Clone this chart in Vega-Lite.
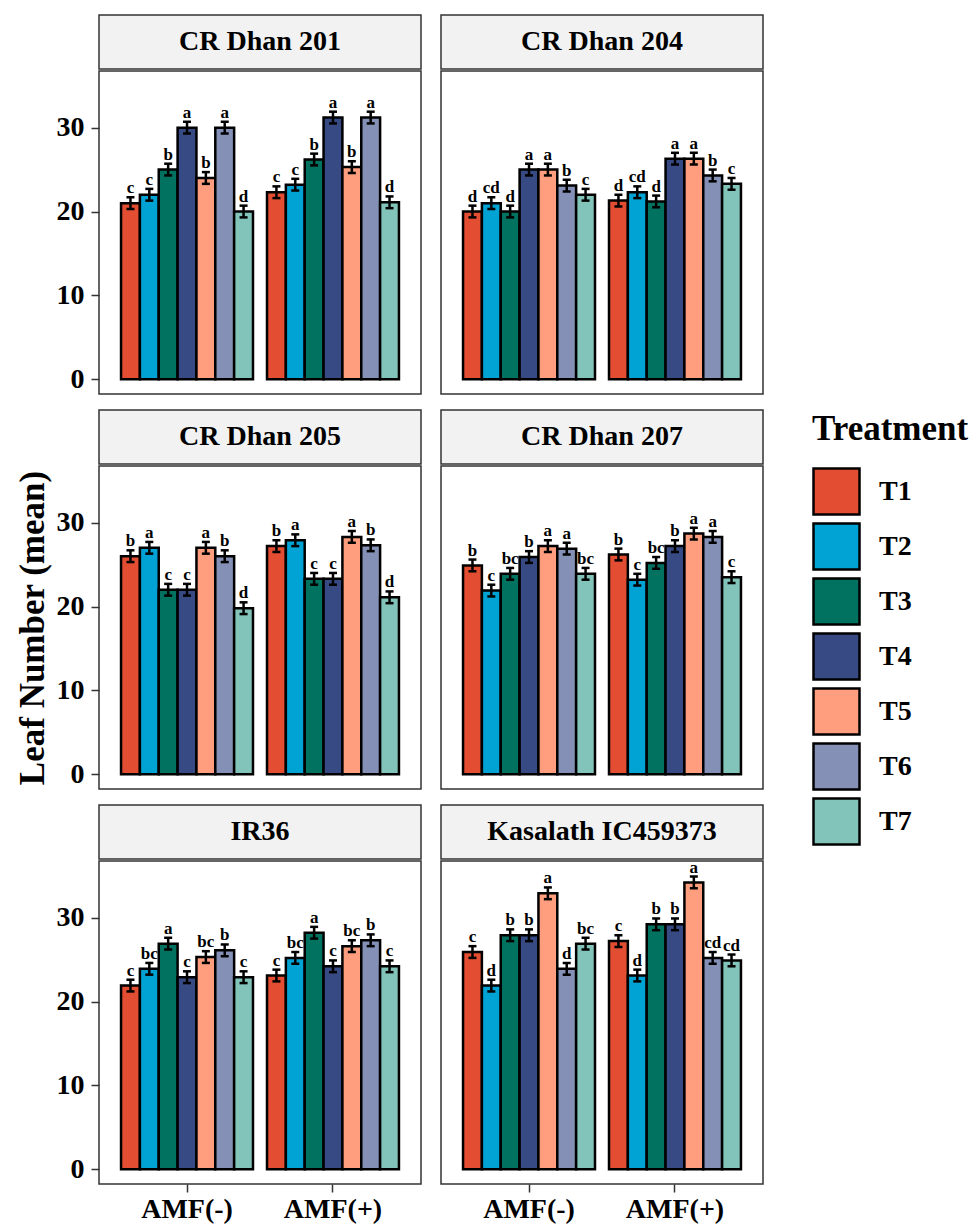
{
  "$schema": "https://vega.github.io/schema/vega-lite/v6.json",
  "padding": {"left": 14, "top": 14, "right": 4, "bottom": 0},
  "datasets": {
    "d": [
      {"c":"CR Dhan 201","a":"AMF(-)","t":"T1","m":21.0,"lo":20.3,"hi":21.7,"l":"c"},
      {"c":"CR Dhan 201","a":"AMF(-)","t":"T2","m":22.0,"lo":21.3,"hi":22.7,"l":"c"},
      {"c":"CR Dhan 201","a":"AMF(-)","t":"T3","m":25.0,"lo":24.3,"hi":25.7,"l":"b"},
      {"c":"CR Dhan 201","a":"AMF(-)","t":"T4","m":30.0,"lo":29.3,"hi":30.7,"l":"a"},
      {"c":"CR Dhan 201","a":"AMF(-)","t":"T5","m":24.0,"lo":23.3,"hi":24.7,"l":"b"},
      {"c":"CR Dhan 201","a":"AMF(-)","t":"T6","m":30.0,"lo":29.3,"hi":30.7,"l":"a"},
      {"c":"CR Dhan 201","a":"AMF(-)","t":"T7","m":20.0,"lo":19.3,"hi":20.7,"l":"d"},
      {"c":"CR Dhan 201","a":"AMF(+)","t":"T1","m":22.3,"lo":21.6,"hi":23.0,"l":"c"},
      {"c":"CR Dhan 201","a":"AMF(+)","t":"T2","m":23.2,"lo":22.5,"hi":23.9,"l":"c"},
      {"c":"CR Dhan 201","a":"AMF(+)","t":"T3","m":26.2,"lo":25.5,"hi":26.9,"l":"b"},
      {"c":"CR Dhan 201","a":"AMF(+)","t":"T4","m":31.2,"lo":30.5,"hi":31.9,"l":"a"},
      {"c":"CR Dhan 201","a":"AMF(+)","t":"T5","m":25.3,"lo":24.6,"hi":26.0,"l":"b"},
      {"c":"CR Dhan 201","a":"AMF(+)","t":"T6","m":31.2,"lo":30.5,"hi":31.9,"l":"a"},
      {"c":"CR Dhan 201","a":"AMF(+)","t":"T7","m":21.1,"lo":20.4,"hi":21.8,"l":"d"},

      {"c":"CR Dhan 204","a":"AMF(-)","t":"T1","m":20.0,"lo":19.3,"hi":20.7,"l":"d"},
      {"c":"CR Dhan 204","a":"AMF(-)","t":"T2","m":21.0,"lo":20.3,"hi":21.7,"l":"cd"},
      {"c":"CR Dhan 204","a":"AMF(-)","t":"T3","m":20.0,"lo":19.3,"hi":20.7,"l":"d"},
      {"c":"CR Dhan 204","a":"AMF(-)","t":"T4","m":25.0,"lo":24.3,"hi":25.7,"l":"a"},
      {"c":"CR Dhan 204","a":"AMF(-)","t":"T5","m":25.0,"lo":24.3,"hi":25.7,"l":"a"},
      {"c":"CR Dhan 204","a":"AMF(-)","t":"T6","m":23.1,"lo":22.4,"hi":23.8,"l":"b"},
      {"c":"CR Dhan 204","a":"AMF(-)","t":"T7","m":22.0,"lo":21.3,"hi":22.7,"l":"c"},
      {"c":"CR Dhan 204","a":"AMF(+)","t":"T1","m":21.3,"lo":20.6,"hi":22.0,"l":"d"},
      {"c":"CR Dhan 204","a":"AMF(+)","t":"T2","m":22.3,"lo":21.6,"hi":23.0,"l":"cd"},
      {"c":"CR Dhan 204","a":"AMF(+)","t":"T3","m":21.2,"lo":20.5,"hi":21.9,"l":"d"},
      {"c":"CR Dhan 204","a":"AMF(+)","t":"T4","m":26.3,"lo":25.6,"hi":27.0,"l":"a"},
      {"c":"CR Dhan 204","a":"AMF(+)","t":"T5","m":26.3,"lo":25.6,"hi":27.0,"l":"a"},
      {"c":"CR Dhan 204","a":"AMF(+)","t":"T6","m":24.3,"lo":23.6,"hi":25.0,"l":"b"},
      {"c":"CR Dhan 204","a":"AMF(+)","t":"T7","m":23.3,"lo":22.6,"hi":24.0,"l":"c"},

      {"c":"CR Dhan 205","a":"AMF(-)","t":"T1","m":26.0,"lo":25.3,"hi":26.7,"l":"b"},
      {"c":"CR Dhan 205","a":"AMF(-)","t":"T2","m":27.0,"lo":26.3,"hi":27.7,"l":"a"},
      {"c":"CR Dhan 205","a":"AMF(-)","t":"T3","m":22.0,"lo":21.3,"hi":22.7,"l":"c"},
      {"c":"CR Dhan 205","a":"AMF(-)","t":"T4","m":22.0,"lo":21.3,"hi":22.7,"l":"c"},
      {"c":"CR Dhan 205","a":"AMF(-)","t":"T5","m":27.0,"lo":26.3,"hi":27.7,"l":"a"},
      {"c":"CR Dhan 205","a":"AMF(-)","t":"T6","m":26.0,"lo":25.3,"hi":26.7,"l":"b"},
      {"c":"CR Dhan 205","a":"AMF(-)","t":"T7","m":19.8,"lo":19.1,"hi":20.5,"l":"d"},
      {"c":"CR Dhan 205","a":"AMF(+)","t":"T1","m":27.2,"lo":26.5,"hi":27.9,"l":"b"},
      {"c":"CR Dhan 205","a":"AMF(+)","t":"T2","m":27.9,"lo":27.2,"hi":28.6,"l":"a"},
      {"c":"CR Dhan 205","a":"AMF(+)","t":"T3","m":23.3,"lo":22.6,"hi":24.0,"l":"c"},
      {"c":"CR Dhan 205","a":"AMF(+)","t":"T4","m":23.3,"lo":22.6,"hi":24.0,"l":"c"},
      {"c":"CR Dhan 205","a":"AMF(+)","t":"T5","m":28.3,"lo":27.6,"hi":29.0,"l":"a"},
      {"c":"CR Dhan 205","a":"AMF(+)","t":"T6","m":27.3,"lo":26.6,"hi":28.0,"l":"b"},
      {"c":"CR Dhan 205","a":"AMF(+)","t":"T7","m":21.1,"lo":20.4,"hi":21.8,"l":"d"},

      {"c":"CR Dhan 207","a":"AMF(-)","t":"T1","m":24.9,"lo":24.2,"hi":25.6,"l":"b"},
      {"c":"CR Dhan 207","a":"AMF(-)","t":"T2","m":21.9,"lo":21.2,"hi":22.6,"l":"c"},
      {"c":"CR Dhan 207","a":"AMF(-)","t":"T3","m":23.9,"lo":23.2,"hi":24.6,"l":"bc"},
      {"c":"CR Dhan 207","a":"AMF(-)","t":"T4","m":25.9,"lo":25.2,"hi":26.6,"l":"b"},
      {"c":"CR Dhan 207","a":"AMF(-)","t":"T5","m":27.2,"lo":26.5,"hi":27.9,"l":"a"},
      {"c":"CR Dhan 207","a":"AMF(-)","t":"T6","m":26.9,"lo":26.2,"hi":27.6,"l":"a"},
      {"c":"CR Dhan 207","a":"AMF(-)","t":"T7","m":23.9,"lo":23.2,"hi":24.6,"l":"bc"},
      {"c":"CR Dhan 207","a":"AMF(+)","t":"T1","m":26.2,"lo":25.5,"hi":26.9,"l":"b"},
      {"c":"CR Dhan 207","a":"AMF(+)","t":"T2","m":23.2,"lo":22.5,"hi":23.9,"l":"c"},
      {"c":"CR Dhan 207","a":"AMF(+)","t":"T3","m":25.2,"lo":24.5,"hi":25.9,"l":"bc"},
      {"c":"CR Dhan 207","a":"AMF(+)","t":"T4","m":27.2,"lo":26.5,"hi":27.9,"l":"b"},
      {"c":"CR Dhan 207","a":"AMF(+)","t":"T5","m":28.7,"lo":28.0,"hi":29.4,"l":"a"},
      {"c":"CR Dhan 207","a":"AMF(+)","t":"T6","m":28.3,"lo":27.6,"hi":29.0,"l":"a"},
      {"c":"CR Dhan 207","a":"AMF(+)","t":"T7","m":23.5,"lo":22.8,"hi":24.2,"l":"c"},

      {"c":"IR36","a":"AMF(-)","t":"T1","m":21.9,"lo":21.2,"hi":22.6,"l":"c"},
      {"c":"IR36","a":"AMF(-)","t":"T2","m":23.9,"lo":23.2,"hi":24.6,"l":"bc"},
      {"c":"IR36","a":"AMF(-)","t":"T3","m":26.9,"lo":26.2,"hi":27.6,"l":"a"},
      {"c":"IR36","a":"AMF(-)","t":"T4","m":22.9,"lo":22.2,"hi":23.6,"l":"c"},
      {"c":"IR36","a":"AMF(-)","t":"T5","m":25.3,"lo":24.6,"hi":26.0,"l":"bc"},
      {"c":"IR36","a":"AMF(-)","t":"T6","m":26.1,"lo":25.4,"hi":26.8,"l":"b"},
      {"c":"IR36","a":"AMF(-)","t":"T7","m":22.9,"lo":22.2,"hi":23.6,"l":"c"},
      {"c":"IR36","a":"AMF(+)","t":"T1","m":23.1,"lo":22.4,"hi":23.8,"l":"c"},
      {"c":"IR36","a":"AMF(+)","t":"T2","m":25.2,"lo":24.5,"hi":25.9,"l":"bc"},
      {"c":"IR36","a":"AMF(+)","t":"T3","m":28.2,"lo":27.5,"hi":28.9,"l":"a"},
      {"c":"IR36","a":"AMF(+)","t":"T4","m":24.2,"lo":23.5,"hi":24.9,"l":"c"},
      {"c":"IR36","a":"AMF(+)","t":"T5","m":26.6,"lo":25.9,"hi":27.3,"l":"bc"},
      {"c":"IR36","a":"AMF(+)","t":"T6","m":27.3,"lo":26.6,"hi":28.0,"l":"b"},
      {"c":"IR36","a":"AMF(+)","t":"T7","m":24.2,"lo":23.5,"hi":24.9,"l":"c"},

      {"c":"Kasalath IC459373","a":"AMF(-)","t":"T1","m":25.9,"lo":25.2,"hi":26.6,"l":"c"},
      {"c":"Kasalath IC459373","a":"AMF(-)","t":"T2","m":21.9,"lo":21.2,"hi":22.6,"l":"d"},
      {"c":"Kasalath IC459373","a":"AMF(-)","t":"T3","m":27.9,"lo":27.2,"hi":28.6,"l":"b"},
      {"c":"Kasalath IC459373","a":"AMF(-)","t":"T4","m":27.9,"lo":27.2,"hi":28.6,"l":"b"},
      {"c":"Kasalath IC459373","a":"AMF(-)","t":"T5","m":32.9,"lo":32.2,"hi":33.6,"l":"a"},
      {"c":"Kasalath IC459373","a":"AMF(-)","t":"T6","m":23.9,"lo":23.2,"hi":24.6,"l":"d"},
      {"c":"Kasalath IC459373","a":"AMF(-)","t":"T7","m":26.9,"lo":26.2,"hi":27.6,"l":"bc"},
      {"c":"Kasalath IC459373","a":"AMF(+)","t":"T1","m":27.2,"lo":26.5,"hi":27.9,"l":"c"},
      {"c":"Kasalath IC459373","a":"AMF(+)","t":"T2","m":23.1,"lo":22.4,"hi":23.8,"l":"d"},
      {"c":"Kasalath IC459373","a":"AMF(+)","t":"T3","m":29.2,"lo":28.5,"hi":29.9,"l":"b"},
      {"c":"Kasalath IC459373","a":"AMF(+)","t":"T4","m":29.2,"lo":28.5,"hi":29.9,"l":"b"},
      {"c":"Kasalath IC459373","a":"AMF(+)","t":"T5","m":34.2,"lo":33.5,"hi":34.9,"l":"a"},
      {"c":"Kasalath IC459373","a":"AMF(+)","t":"T6","m":25.2,"lo":24.5,"hi":25.9,"l":"cd"},
      {"c":"Kasalath IC459373","a":"AMF(+)","t":"T7","m":24.9,"lo":24.2,"hi":25.6,"l":"cd"}
    ]
  },
  "config": {
    "font": "Liberation Serif",
    "view": {"stroke": "#333333", "strokeWidth": 1.5},
    "axis": {"grid": false, "domain": false, "tickSize": 8, "tickColor": "#333333", "tickWidth": 1.5, "labelFontSize": 28, "labelFontWeight": "bold", "labelColor": "black", "labelFont": "Liberation Serif", "titleFont": "Liberation Serif"},
    "axisY": {"labelPadding": 7, "titleFontSize": 35, "titleFontWeight": "bold", "titleColor": "black", "titlePadding": 6},
    "axisX": {"labelAngle": 0, "labelPadding": 3},
    "legend": {
      "symbolType": "square", "symbolSize": 2116, "symbolStrokeColor": "black", "symbolStrokeWidth": 2.5, "symbolOpacity": 1,
      "labelFontSize": 28, "labelFontWeight": "bold", "labelColor": "black", "labelFont": "Liberation Serif",
      "titleFontSize": 35, "titleFontWeight": "bold", "titleColor": "black", "titleFont": "Liberation Serif",
      "rowPadding": -2, "labelOffset": 18, "titlePadding": 20, "padding": 0, "direction": "vertical"
    }
  },
  "columns": 2,
  "spacing": {"row": 14, "column": 18},
  "resolve": {"scale": {"color": "shared"}, "legend": {"color": "shared"}},
  "concat": [
    {"spacing": 2, "bounds": "flush", "vconcat": [
      {"width": 322, "height": 54, "view": {"fill": "#F2F2F2", "stroke": "#333333", "strokeWidth": 1.5}, "data": {"values": [{"c": "CR Dhan 201"}]}, "mark": {"type": "text", "fontSize": 28, "fontWeight": "bold", "color": "black"}, "encoding": {"text": {"field": "c"}}},
      {"width": 322, "height": 323, "data": {"name": "d"}, "transform": [{"filter": "datum.c === 'CR Dhan 201'"}],
       "encoding": {
         "x": {"field": "a", "type": "nominal", "sort": ["AMF(-)", "AMF(+)"], "scale": {"paddingInner": 0.096, "paddingOuter": 0.151}, "axis": null},
         "xOffset": {"field": "t", "type": "nominal", "sort": ["T1","T2","T3","T4","T5","T6","T7"], "scale": {"paddingInner": 0, "paddingOuter": 0}}
       },
       "layer": [
         {"mark": {"type": "bar", "stroke": "black", "strokeWidth": 2.5}, "encoding": {
           "y": {"field": "m", "type": "quantitative", "scale": {"domain": [-1.75, 36.75], "nice": false, "zero": false}, "axis": {"values": [0, 10, 20, 30]}, "title": " "},
           "y2": {"datum": 0},
           "color": {"field": "t", "type": "nominal", "title": "Treatment", "scale": {"domain": ["T1","T2","T3","T4","T5","T6","T7"], "range": ["#E34E33","#00A3D3","#00725F","#374A83","#FE9E7E","#8490B5","#83C4BA"]}, "legend": {"orient": "none", "legendX": 713, "legendY": 397}}
         }},
         {"mark": {"type": "rule", "color": "black", "strokeWidth": 2.5}, "encoding": {"y": {"field": "lo", "type": "quantitative", "axis": {"values": [0, 10, 20, 30]}, "title": " "}, "y2": {"field": "hi"}}},
         {"mark": {"type": "tick", "orient": "horizontal", "color": "black", "size": 8, "thickness": 2.5, "opacity": 1}, "encoding": {"y": {"field": "lo", "type": "quantitative", "axis": {"values": [0, 10, 20, 30]}, "title": " "}}},
         {"mark": {"type": "tick", "orient": "horizontal", "color": "black", "size": 8, "thickness": 2.5, "opacity": 1}, "encoding": {"y": {"field": "hi", "type": "quantitative", "axis": {"values": [0, 10, 20, 30]}, "title": " "}}},
         {"mark": {"type": "text", "fontSize": 17, "fontWeight": "bold", "color": "black", "baseline": "alphabetic", "dy": -4}, "encoding": {"y": {"field": "hi", "type": "quantitative", "axis": {"values": [0, 10, 20, 30]}, "title": " "}, "text": {"field": "l"}}}
       ]}
    ]},
    {"spacing": 2, "bounds": "flush", "vconcat": [
      {"width": 322, "height": 54, "view": {"fill": "#F2F2F2", "stroke": "#333333", "strokeWidth": 1.5}, "data": {"values": [{"c": "CR Dhan 204"}]}, "mark": {"type": "text", "fontSize": 28, "fontWeight": "bold", "color": "black"}, "encoding": {"text": {"field": "c"}}},
      {"width": 322, "height": 323, "data": {"name": "d"}, "transform": [{"filter": "datum.c === 'CR Dhan 204'"}],
       "encoding": {
         "x": {"field": "a", "type": "nominal", "sort": ["AMF(-)", "AMF(+)"], "scale": {"paddingInner": 0.096, "paddingOuter": 0.151}, "axis": null},
         "xOffset": {"field": "t", "type": "nominal", "sort": ["T1","T2","T3","T4","T5","T6","T7"], "scale": {"paddingInner": 0, "paddingOuter": 0}}
       },
       "layer": [
         {"mark": {"type": "bar", "stroke": "black", "strokeWidth": 2.5}, "encoding": {
           "y": {"field": "m", "type": "quantitative", "scale": {"domain": [-1.75, 36.75], "nice": false, "zero": false}, "axis": null},
           "y2": {"datum": 0},
           "color": {"field": "t", "type": "nominal", "title": "Treatment", "scale": {"domain": ["T1","T2","T3","T4","T5","T6","T7"], "range": ["#E34E33","#00A3D3","#00725F","#374A83","#FE9E7E","#8490B5","#83C4BA"]}, "legend": {"orient": "none", "legendX": 713, "legendY": 397}}
         }},
         {"mark": {"type": "rule", "color": "black", "strokeWidth": 2.5}, "encoding": {"y": {"field": "lo", "type": "quantitative", "axis": null}, "y2": {"field": "hi"}}},
         {"mark": {"type": "tick", "orient": "horizontal", "color": "black", "size": 8, "thickness": 2.5, "opacity": 1}, "encoding": {"y": {"field": "lo", "type": "quantitative", "axis": null}}},
         {"mark": {"type": "tick", "orient": "horizontal", "color": "black", "size": 8, "thickness": 2.5, "opacity": 1}, "encoding": {"y": {"field": "hi", "type": "quantitative", "axis": null}}},
         {"mark": {"type": "text", "fontSize": 17, "fontWeight": "bold", "color": "black", "baseline": "alphabetic", "dy": -4}, "encoding": {"y": {"field": "hi", "type": "quantitative", "axis": null}, "text": {"field": "l"}}}
       ]}
    ]},
    {"spacing": 2, "bounds": "flush", "vconcat": [
      {"width": 322, "height": 54, "view": {"fill": "#F2F2F2", "stroke": "#333333", "strokeWidth": 1.5}, "data": {"values": [{"c": "CR Dhan 205"}]}, "mark": {"type": "text", "fontSize": 28, "fontWeight": "bold", "color": "black"}, "encoding": {"text": {"field": "c"}}},
      {"width": 322, "height": 323, "data": {"name": "d"}, "transform": [{"filter": "datum.c === 'CR Dhan 205'"}],
       "encoding": {
         "x": {"field": "a", "type": "nominal", "sort": ["AMF(-)", "AMF(+)"], "scale": {"paddingInner": 0.096, "paddingOuter": 0.151}, "axis": null},
         "xOffset": {"field": "t", "type": "nominal", "sort": ["T1","T2","T3","T4","T5","T6","T7"], "scale": {"paddingInner": 0, "paddingOuter": 0}}
       },
       "layer": [
         {"mark": {"type": "bar", "stroke": "black", "strokeWidth": 2.5}, "encoding": {
           "y": {"field": "m", "type": "quantitative", "scale": {"domain": [-1.75, 36.75], "nice": false, "zero": false}, "axis": {"values": [0, 10, 20, 30]}, "title": "Leaf Number (mean)"},
           "y2": {"datum": 0},
           "color": {"field": "t", "type": "nominal", "title": "Treatment", "scale": {"domain": ["T1","T2","T3","T4","T5","T6","T7"], "range": ["#E34E33","#00A3D3","#00725F","#374A83","#FE9E7E","#8490B5","#83C4BA"]}, "legend": {"orient": "none", "legendX": 713, "legendY": 397}}
         }},
         {"mark": {"type": "rule", "color": "black", "strokeWidth": 2.5}, "encoding": {"y": {"field": "lo", "type": "quantitative", "axis": {"values": [0, 10, 20, 30]}, "title": "Leaf Number (mean)"}, "y2": {"field": "hi"}}},
         {"mark": {"type": "tick", "orient": "horizontal", "color": "black", "size": 8, "thickness": 2.5, "opacity": 1}, "encoding": {"y": {"field": "lo", "type": "quantitative", "axis": {"values": [0, 10, 20, 30]}, "title": "Leaf Number (mean)"}}},
         {"mark": {"type": "tick", "orient": "horizontal", "color": "black", "size": 8, "thickness": 2.5, "opacity": 1}, "encoding": {"y": {"field": "hi", "type": "quantitative", "axis": {"values": [0, 10, 20, 30]}, "title": "Leaf Number (mean)"}}},
         {"mark": {"type": "text", "fontSize": 17, "fontWeight": "bold", "color": "black", "baseline": "alphabetic", "dy": -4}, "encoding": {"y": {"field": "hi", "type": "quantitative", "axis": {"values": [0, 10, 20, 30]}, "title": "Leaf Number (mean)"}, "text": {"field": "l"}}}
       ]}
    ]},
    {"spacing": 2, "bounds": "flush", "vconcat": [
      {"width": 322, "height": 54, "view": {"fill": "#F2F2F2", "stroke": "#333333", "strokeWidth": 1.5}, "data": {"values": [{"c": "CR Dhan 207"}]}, "mark": {"type": "text", "fontSize": 28, "fontWeight": "bold", "color": "black"}, "encoding": {"text": {"field": "c"}}},
      {"width": 322, "height": 323, "data": {"name": "d"}, "transform": [{"filter": "datum.c === 'CR Dhan 207'"}],
       "encoding": {
         "x": {"field": "a", "type": "nominal", "sort": ["AMF(-)", "AMF(+)"], "scale": {"paddingInner": 0.096, "paddingOuter": 0.151}, "axis": null},
         "xOffset": {"field": "t", "type": "nominal", "sort": ["T1","T2","T3","T4","T5","T6","T7"], "scale": {"paddingInner": 0, "paddingOuter": 0}}
       },
       "layer": [
         {"mark": {"type": "bar", "stroke": "black", "strokeWidth": 2.5}, "encoding": {
           "y": {"field": "m", "type": "quantitative", "scale": {"domain": [-1.75, 36.75], "nice": false, "zero": false}, "axis": null},
           "y2": {"datum": 0},
           "color": {"field": "t", "type": "nominal", "title": "Treatment", "scale": {"domain": ["T1","T2","T3","T4","T5","T6","T7"], "range": ["#E34E33","#00A3D3","#00725F","#374A83","#FE9E7E","#8490B5","#83C4BA"]}, "legend": {"orient": "none", "legendX": 713, "legendY": 397}}
         }},
         {"mark": {"type": "rule", "color": "black", "strokeWidth": 2.5}, "encoding": {"y": {"field": "lo", "type": "quantitative", "axis": null}, "y2": {"field": "hi"}}},
         {"mark": {"type": "tick", "orient": "horizontal", "color": "black", "size": 8, "thickness": 2.5, "opacity": 1}, "encoding": {"y": {"field": "lo", "type": "quantitative", "axis": null}}},
         {"mark": {"type": "tick", "orient": "horizontal", "color": "black", "size": 8, "thickness": 2.5, "opacity": 1}, "encoding": {"y": {"field": "hi", "type": "quantitative", "axis": null}}},
         {"mark": {"type": "text", "fontSize": 17, "fontWeight": "bold", "color": "black", "baseline": "alphabetic", "dy": -4}, "encoding": {"y": {"field": "hi", "type": "quantitative", "axis": null}, "text": {"field": "l"}}}
       ]}
    ]},
    {"spacing": 2, "bounds": "flush", "vconcat": [
      {"width": 322, "height": 54, "view": {"fill": "#F2F2F2", "stroke": "#333333", "strokeWidth": 1.5}, "data": {"values": [{"c": "IR36"}]}, "mark": {"type": "text", "fontSize": 28, "fontWeight": "bold", "color": "black"}, "encoding": {"text": {"field": "c"}}},
      {"width": 322, "height": 323, "data": {"name": "d"}, "transform": [{"filter": "datum.c === 'IR36'"}],
       "encoding": {
         "x": {"field": "a", "type": "nominal", "sort": ["AMF(-)", "AMF(+)"], "scale": {"paddingInner": 0.096, "paddingOuter": 0.151}, "axis": {"title": null}},
         "xOffset": {"field": "t", "type": "nominal", "sort": ["T1","T2","T3","T4","T5","T6","T7"], "scale": {"paddingInner": 0, "paddingOuter": 0}}
       },
       "layer": [
         {"mark": {"type": "bar", "stroke": "black", "strokeWidth": 2.5}, "encoding": {
           "y": {"field": "m", "type": "quantitative", "scale": {"domain": [-1.75, 36.75], "nice": false, "zero": false}, "axis": {"values": [0, 10, 20, 30]}, "title": " "},
           "y2": {"datum": 0},
           "color": {"field": "t", "type": "nominal", "title": "Treatment", "scale": {"domain": ["T1","T2","T3","T4","T5","T6","T7"], "range": ["#E34E33","#00A3D3","#00725F","#374A83","#FE9E7E","#8490B5","#83C4BA"]}, "legend": {"orient": "none", "legendX": 713, "legendY": 397}}
         }},
         {"mark": {"type": "rule", "color": "black", "strokeWidth": 2.5}, "encoding": {"y": {"field": "lo", "type": "quantitative", "axis": {"values": [0, 10, 20, 30]}, "title": " "}, "y2": {"field": "hi"}}},
         {"mark": {"type": "tick", "orient": "horizontal", "color": "black", "size": 8, "thickness": 2.5, "opacity": 1}, "encoding": {"y": {"field": "lo", "type": "quantitative", "axis": {"values": [0, 10, 20, 30]}, "title": " "}}},
         {"mark": {"type": "tick", "orient": "horizontal", "color": "black", "size": 8, "thickness": 2.5, "opacity": 1}, "encoding": {"y": {"field": "hi", "type": "quantitative", "axis": {"values": [0, 10, 20, 30]}, "title": " "}}},
         {"mark": {"type": "text", "fontSize": 17, "fontWeight": "bold", "color": "black", "baseline": "alphabetic", "dy": -4}, "encoding": {"y": {"field": "hi", "type": "quantitative", "axis": {"values": [0, 10, 20, 30]}, "title": " "}, "text": {"field": "l"}}}
       ]}
    ]},
    {"spacing": 2, "bounds": "flush", "vconcat": [
      {"width": 322, "height": 54, "view": {"fill": "#F2F2F2", "stroke": "#333333", "strokeWidth": 1.5}, "data": {"values": [{"c": "Kasalath IC459373"}]}, "mark": {"type": "text", "fontSize": 28, "fontWeight": "bold", "color": "black"}, "encoding": {"text": {"field": "c"}}},
      {"width": 322, "height": 323, "data": {"name": "d"}, "transform": [{"filter": "datum.c === 'Kasalath IC459373'"}],
       "encoding": {
         "x": {"field": "a", "type": "nominal", "sort": ["AMF(-)", "AMF(+)"], "scale": {"paddingInner": 0.096, "paddingOuter": 0.151}, "axis": {"title": null}},
         "xOffset": {"field": "t", "type": "nominal", "sort": ["T1","T2","T3","T4","T5","T6","T7"], "scale": {"paddingInner": 0, "paddingOuter": 0}}
       },
       "layer": [
         {"mark": {"type": "bar", "stroke": "black", "strokeWidth": 2.5}, "encoding": {
           "y": {"field": "m", "type": "quantitative", "scale": {"domain": [-1.75, 36.75], "nice": false, "zero": false}, "axis": null},
           "y2": {"datum": 0},
           "color": {"field": "t", "type": "nominal", "title": "Treatment", "scale": {"domain": ["T1","T2","T3","T4","T5","T6","T7"], "range": ["#E34E33","#00A3D3","#00725F","#374A83","#FE9E7E","#8490B5","#83C4BA"]}, "legend": {"orient": "none", "legendX": 713, "legendY": 397}}
         }},
         {"mark": {"type": "rule", "color": "black", "strokeWidth": 2.5}, "encoding": {"y": {"field": "lo", "type": "quantitative", "axis": null}, "y2": {"field": "hi"}}},
         {"mark": {"type": "tick", "orient": "horizontal", "color": "black", "size": 8, "thickness": 2.5, "opacity": 1}, "encoding": {"y": {"field": "lo", "type": "quantitative", "axis": null}}},
         {"mark": {"type": "tick", "orient": "horizontal", "color": "black", "size": 8, "thickness": 2.5, "opacity": 1}, "encoding": {"y": {"field": "hi", "type": "quantitative", "axis": null}}},
         {"mark": {"type": "text", "fontSize": 17, "fontWeight": "bold", "color": "black", "baseline": "alphabetic", "dy": -4}, "encoding": {"y": {"field": "hi", "type": "quantitative", "axis": null}, "text": {"field": "l"}}}
       ]}
    ]}
  ]
}
